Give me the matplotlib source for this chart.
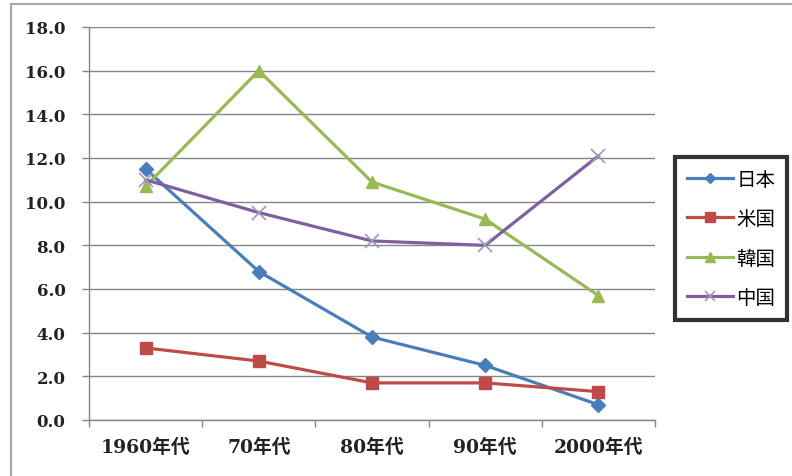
import matplotlib.pyplot as plt
from matplotlib.patches import Rectangle
from matplotlib.ticker import FixedLocator, NullFormatter

plt.rcParams['font.family'] = ['DejaVu Serif', 'Noto Sans CJK JP']

# data
categories = ['1960年代', '70年代', '80年代', '90年代', '2000年代']
japan = [11.5, 6.8, 3.8, 2.5, 0.7]
usa = [3.3, 2.7, 1.7, 1.7, 1.3]
korea = [10.7, 16.0, 10.9, 9.2, 5.7]
china = [11.0, 9.5, 8.2, 8.0, 12.1]
series_names = ['日本', '米国', '韓国', '中国']

fig = plt.figure(figsize=(7.92, 4.77), dpi=100)
ax = fig.add_axes([89 / 792, 1 - 421 / 477, 566 / 792, 393 / 477])

# outer chart border (right and bottom edges fall outside the image)
fig.patches.append(Rectangle((11 / 792, -0.05), 1.2, 1 - 5 / 477 + 0.05,
                             transform=fig.transFigure, fill=False,
                             edgecolor='#a6a6a6', linewidth=1.5))

x = list(range(len(categories)))
styles = [
    (japan, '#4a7ebb', 'D', 7, 1),
    (usa, '#be4b48', 's', 9, 1),
    (korea, '#98b954', '^', 9, 1),
    (china, '#7d60a0', 'x', 10, 1.2),
]
for (vals, color, marker, ms, mew), name in zip(styles, series_names):
    ax.plot(x, vals, color=color, linewidth=2.3, marker=marker, markersize=ms,
            markeredgewidth=mew, markeredgecolor=color if marker != 'x' else '#a09ab8',
            markerfacecolor=color, label=name)

ax.set_xlim(-0.5, len(categories) - 0.5)
ax.set_ylim(0, 18)
ax.set_yticks([i * 2 for i in range(10)])
ax.set_yticklabels([f'{i * 2:.1f}' for i in range(10)], fontsize=12, fontweight='bold')
ax.set_xticks(x)
ax.set_xticklabels(categories, fontsize=13.5, fontweight='bold')
ax.xaxis.set_minor_locator(FixedLocator([i - 0.5 for i in range(len(categories) + 1)]))
ax.xaxis.set_minor_formatter(NullFormatter())
ax.tick_params(axis='x', which='major', length=0, pad=13, colors='#222222')
ax.tick_params(axis='x', which='minor', length=5, color='#868686', width=1)
ax.tick_params(axis='y', length=5, width=1, pad=12, colors='#222222')
ax.tick_params(axis='y', color='#868686')

ax.grid(axis='y', color='#868686', linewidth=1)
ax.set_axisbelow(True)
for side in ['top', 'right']:
    ax.spines[side].set_visible(False)
for side in ['left', 'bottom']:
    ax.spines[side].set_color('#868686')
    ax.spines[side].set_linewidth(1)

leg = fig.legend(loc='upper left', bbox_to_anchor=(675 / 792, 1 - 158 / 477),
                 frameon=True, fancybox=False, handlelength=2.4,
                 handletextpad=0.15, borderpad=0.6, labelspacing=0.95,
                 borderaxespad=0, markerscale=0.75,
                 prop={'family': ['Noto Sans CJK JP'], 'size': 14})
leg.get_frame().set_edgecolor('black')
leg.get_frame().set_linewidth(3)

fig.savefig('out.png', dpi=100)
